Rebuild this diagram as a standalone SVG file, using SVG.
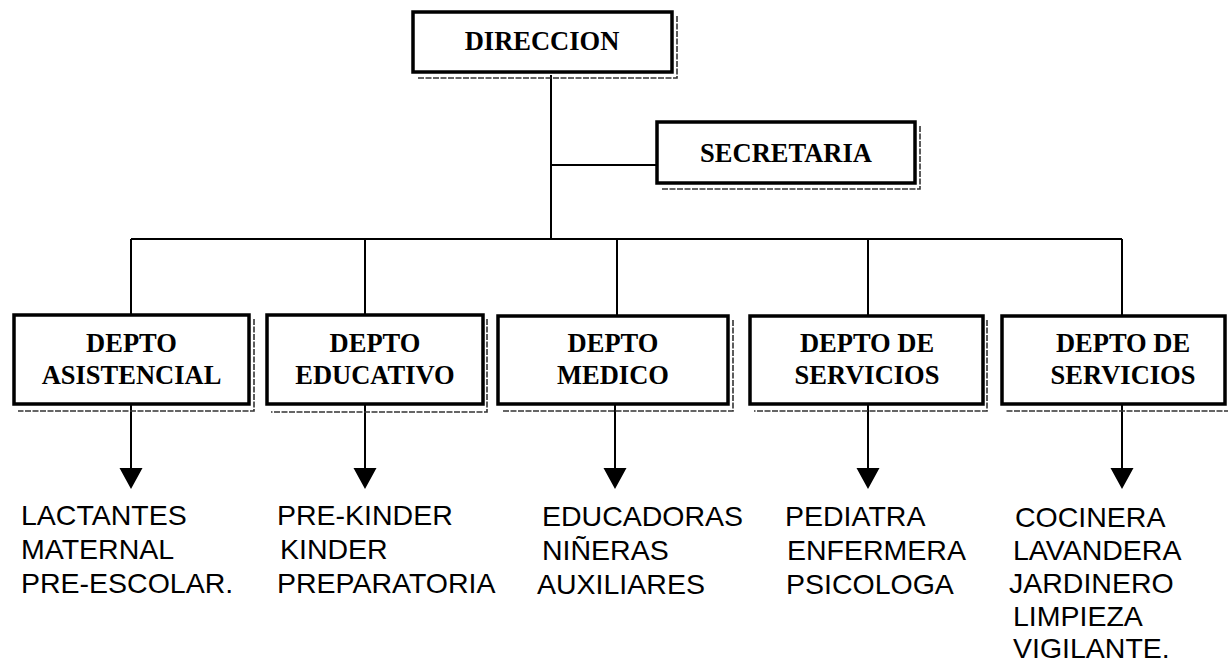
<svg xmlns="http://www.w3.org/2000/svg" width="1228" height="664" viewBox="0 0 1228 664">
<style>
.box{fill:#fff;stroke:#000;stroke-width:3.5}
.sh{fill:none;stroke:#333;stroke-width:1.6;stroke-dasharray:6 1.5}
.bt{font-family:"Liberation Serif","Times New Roman",serif;font-weight:bold;font-size:26.5px;fill:#000;text-anchor:middle}
.lt{font-family:"Liberation Sans",Arial,sans-serif;font-size:28.5px;fill:#000}
.ln{fill:none;stroke:#000;stroke-width:2}
</style>
<defs>
<marker id="ah" viewBox="0 0 23 21" refX="11.5" refY="21" markerWidth="23" markerHeight="21" markerUnits="userSpaceOnUse" orient="auto-start-reverse">
<path d="M0 0 L23 0 L11.5 21 Z" fill="#000"/>
</marker>
</defs>
<rect width="1228" height="664" fill="#fff"/>
<g id="connectors">
<path class="ln" d="M551 75 V239"/>
<path class="ln" d="M551 165 H657"/>
<path class="ln" d="M131 239 H1122"/>
<path class="ln" d="M131 239 V315 M365 239 V315 M617 239 V315 M868 239 V315 M1122 239 V315"/>
<path d="M131 404 V469" class="ln"/>
<path d="M365 404 V469" class="ln"/>
<path d="M615 404 V469" class="ln"/>
<path d="M868 404 V469" class="ln"/>
<path d="M1122 404 V469" class="ln"/>
<path d="M119.5 468 H142.5 L131 489 Z M353.5 468 H376.5 L365 489 Z M603.5 468 H626.5 L615 489 Z M856.5 468 H879.5 L868 489 Z M1110.5 468 H1133.5 L1122 489 Z" fill="#000"/>
</g>
<g id="direccion">
<polyline class="sh" points="677,16 677,78 417,78"/>
<rect class="box" x="413" y="12" width="259" height="60"/>
<text class="bt" x="542" y="50" font-size="27">DIRECCION</text>
</g>
<g id="secretaria">
<polyline class="sh" points="920,126 920,189 661,189"/>
<rect class="box" x="657" y="122" width="258" height="61"/>
<text class="bt" x="786" y="162" font-size="27">SECRETARIA</text>
</g>
<g id="depto-asistencial">
<polyline class="sh" points="254,319 254,411 18,411"/>
<rect class="box" x="14" y="315" width="235" height="89"/>
<text class="bt" x="131.5" y="352">DEPTO</text>
<text class="bt" x="131.5" y="384">ASISTENCIAL</text>
</g>
<g id="depto-educativo">
<polyline class="sh" points="487,319 487,412 271,412"/>
<rect class="box" x="267" y="315" width="216" height="89"/>
<text class="bt" x="375" y="352">DEPTO</text>
<text class="bt" x="375" y="384">EDUCATIVO</text>
</g>
<g id="depto-medico">
<polyline class="sh" points="733,320 733,411 502,411"/>
<rect class="box" x="498" y="316" width="230" height="88"/>
<text class="bt" x="613" y="352">DEPTO</text>
<text class="bt" x="613" y="384">MEDICO</text>
</g>
<g id="depto-servicios-1">
<polyline class="sh" points="987,320 987,411 754,411"/>
<rect class="box" x="750" y="316" width="233" height="88"/>
<text class="bt" x="867" y="352">DEPTO DE</text>
<text class="bt" x="867" y="384">SERVICIOS</text>
</g>
<g id="depto-servicios-2">
<polyline class="sh" points="1230,411 1006,411"/>
<rect class="box" x="1002" y="316" width="223" height="88"/>
<text class="bt" x="1123" y="352">DEPTO DE</text>
<text class="bt" x="1123" y="384">SERVICIOS</text>
</g>
<g id="list-asistencial">
<text class="lt" x="21" y="525">LACTANTES</text>
<text class="lt" x="21" y="559">MATERNAL</text>
<text class="lt" x="21" y="593">PRE-ESCOLAR.</text>
</g>
<g id="list-educativo">
<text class="lt" x="277" y="525">PRE-KINDER</text>
<text class="lt" x="280" y="559">KINDER</text>
<text class="lt" x="277" y="593">PREPARATORIA</text>
</g>
<g id="list-medico">
<text class="lt" x="542" y="526">EDUCADORAS</text>
<text class="lt" x="542" y="560">NIÑERAS</text>
<text class="lt" x="537" y="594">AUXILIARES</text>
</g>
<g id="list-servicios-1">
<text class="lt" x="785" y="526">PEDIATRA</text>
<text class="lt" x="787" y="560">ENFERMERA</text>
<text class="lt" x="786" y="594">PSICOLOGA</text>
</g>
<g id="list-servicios-2">
<text class="lt" x="1015" y="527">COCINERA</text>
<text class="lt" x="1013" y="560">LAVANDERA</text>
<text class="lt" x="1009" y="593">JARDINERO</text>
<text class="lt" x="1013" y="626">LIMPIEZA</text>
<text class="lt" x="1013" y="658">VIGILANTE.</text>
</g>
</svg>
